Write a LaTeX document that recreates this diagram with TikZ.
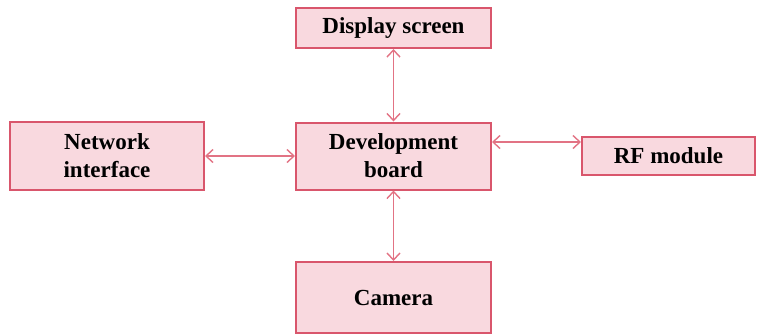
\documentclass[tikz,border=0pt]{standalone}
\usepackage{fontspec}
\setmainfont{Liberation Serif}
\usetikzlibrary{arrows.meta}
\definecolor{boxfill}{HTML}{F9D9DF}
\definecolor{boxline}{HTML}{D9566C}
\definecolor{arrline}{HTML}{E27384}
\tikzset{
  blk/.style={draw=boxline, fill=boxfill, line width=2pt, align=center,
    font=\fontsize{23}{28}\selectfont\bfseries, inner sep=0pt},
  link/.style={draw=arrline, line width=1.4pt,
    {Straight Barb[length=7pt,width=13pt]}-{Straight Barb[length=7pt,width=13pt]}}
}
\begin{document}
\begin{tikzpicture}[x=1pt,y=1pt]
\useasboundingbox (0,0) rectangle (764,-333);
\node[blk, minimum width=195pt, minimum height=40pt] (disp) at (393.5,-28) {Display screen};
\node[blk, minimum width=195pt, minimum height=67pt] (dev) at (393.5,-156) {Development\\board};
\node[blk, minimum width=194pt, minimum height=68pt] (net) at (107,-156) {Network\\interface};
\node[blk, minimum width=173pt, minimum height=38pt] (rf) at (668.5,-156) {RF module};
\node[blk, minimum width=195pt, minimum height=71pt] (cam) at (393.5,-297.5) {Camera};
\draw[link] (disp) -- (dev);
\draw[link] (dev) -- (cam);
\draw[link] (net.east) -- (dev.west);
\draw[link] ([yshift=14pt]dev.east) -- ([yshift=14pt]rf.west);
\end{tikzpicture}
\end{document}
